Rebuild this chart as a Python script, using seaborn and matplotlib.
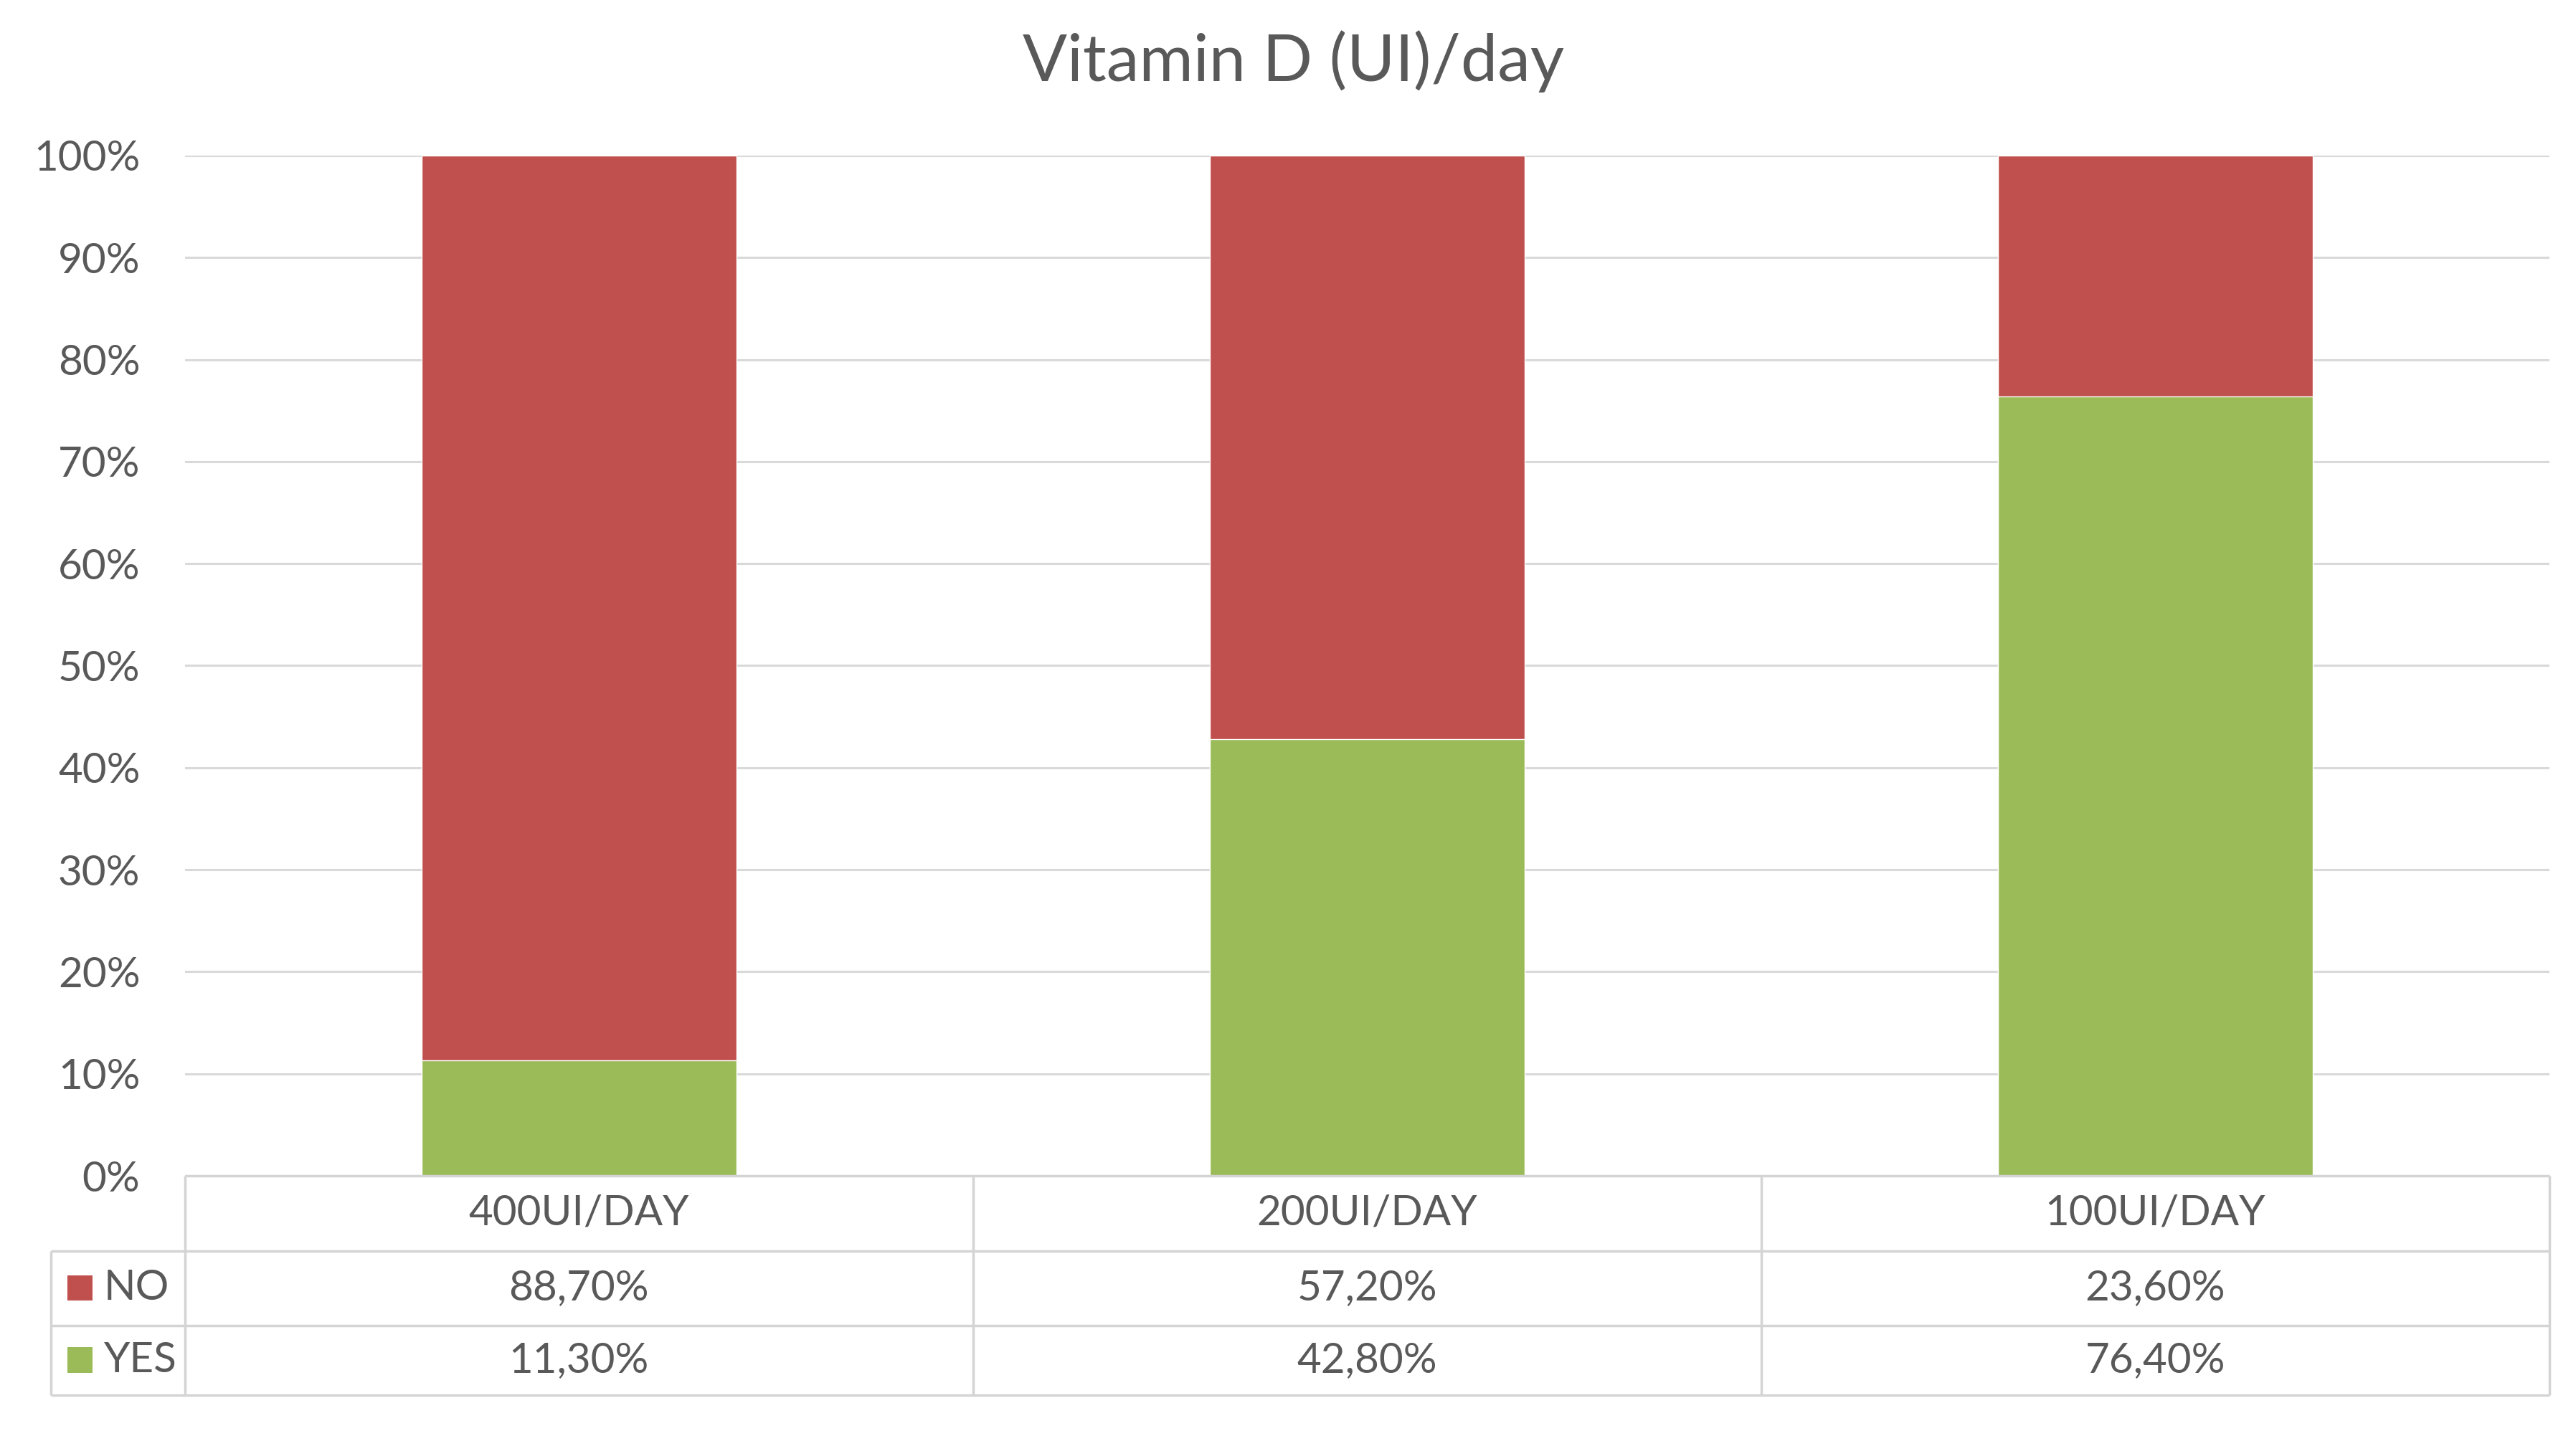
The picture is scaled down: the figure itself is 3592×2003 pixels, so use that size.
import matplotlib
matplotlib.use("Agg")
import matplotlib.pyplot as plt
import seaborn as sns
import numpy as np
import pandas as pd
from matplotlib.patches import Rectangle

categories = ["400UI/DAY", "200UI/DAY", "100UI/DAY"]
yes_vals = [11.30, 42.80, 76.40]
no_vals = [88.70, 57.20, 23.60]
series_names = ["NO", "YES"]
yticks = [0, 10, 20, 30, 40, 50, 60, 70, 80, 90, 100]
title = "Vitamin D (UI)/day"

RED = "#C0504D"
GREEN = "#9BBB59"
TXT = "#595959"
GRID = "#D9D9D9"
BORDER = "#D4D4D4"

sns.set_theme(style="white")
plt.rcParams['font.family'] = ['Lato', 'DejaVu Sans']

fig = plt.figure(figsize=(35.92, 20.03), dpi=100)
ax = fig.add_axes([0.0718, 0.1812, 0.9897 - 0.0718, 0.8917 - 0.1812])

df = pd.DataFrame({"cat": categories, "yes": yes_vals, "no": no_vals})
df["total"] = df["yes"] + df["no"]

sns.barplot(data=df, x="cat", y="total", color=RED, saturation=1, width=0.4, ax=ax, zorder=3)
sns.barplot(data=df, x="cat", y="yes", color=GREEN, saturation=1, width=0.4, ax=ax, zorder=4)

ax.set_xlim(-0.5, 2.5)
ax.set_ylim(0, 100)
ax.set_yticks(yticks)
ax.set_yticklabels([f"{t}%" for t in yticks])
ax.tick_params(axis='y', length=0, pad=45, labelsize=42, labelcolor=TXT)
ax.set_xticks([])
ax.set_xlabel("")
ax.set_ylabel("")
for s in ax.spines.values():
    s.set_visible(False)
ax.yaxis.grid(True, color=GRID, linewidth=2.2, zorder=0)
ax.set_axisbelow(True)

# data table below the plot
rows_y = [0, -7.35, -14.65, -21.5]
xl, xr = -0.5, 2.5
xleg = -0.67
lw = 2.5
kw = dict(color=BORDER, linewidth=lw, clip_on=False, zorder=5, solid_capstyle='butt')
ax.plot([xl, xr], [rows_y[0], rows_y[0]], **kw)
for yv in rows_y[1:]:
    ax.plot([xleg, xr], [yv, yv], **kw)
for xv in [-0.5, 0.5, 1.5, 2.5]:
    ax.plot([xv, xv], [rows_y[0], rows_y[-1]], **kw)
ax.plot([xleg, xleg], [rows_y[1], rows_y[-1]], **kw)

fs = 42
for i, c in enumerate(categories):
    ax.text(i, (rows_y[0] + rows_y[1]) / 2, c, ha='center', va='center',
            fontsize=fs, color=TXT, clip_on=False)
    ax.text(i, (rows_y[1] + rows_y[2]) / 2, f"{no_vals[i]:.2f}".replace('.', ',') + "%",
            ha='center', va='center', fontsize=fs, color=TXT, clip_on=False)
    ax.text(i, (rows_y[2] + rows_y[3]) / 2, f"{yes_vals[i]:.2f}".replace('.', ',') + "%",
            ha='center', va='center', fontsize=fs, color=TXT, clip_on=False)

sq_w, sq_h = 0.032, 2.5
for (name, col, r0, r1) in [("NO", RED, rows_y[1], rows_y[2]), ("YES", GREEN, rows_y[2], rows_y[3])]:
    yc = (r0 + r1) / 2
    ax.add_patch(Rectangle((-0.649, yc - sq_h / 2), sq_w, sq_h, facecolor=col,
                           edgecolor='none', clip_on=False, zorder=6))
    ax.text(-0.603, yc, name, ha='left', va='center', fontsize=fs, color=TXT, clip_on=False)

fig.text(0.502, 0.9436, title, ha='center', va='baseline', fontsize=66, color=TXT)

fig.savefig("out.png", dpi=100, facecolor='white')
